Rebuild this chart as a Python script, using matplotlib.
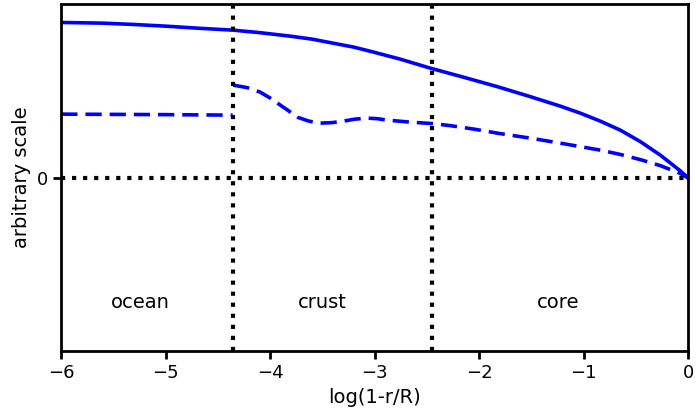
import matplotlib
matplotlib.use("Agg")
import matplotlib.pyplot as plt

# solid curve
x_full = [-6.0, -5.6, -5.31, -5.0, -4.7, -4.354, -4.1, -3.81, -3.6, -3.40, -3.2, -3.01,
          -2.756, -2.469, -2.153, -1.828, -1.512, -1.225, -1.034, -0.842, -0.651,
          -0.459, -0.268, -0.077, 0.0]
y_full = [1.557, 1.55, 1.537, 1.52, 1.50, 1.48, 1.455, 1.42, 1.39, 1.35, 1.31, 1.26,
          1.19, 1.10, 1.01, 0.915, 0.815, 0.72, 0.65, 0.57, 0.48,
          0.365, 0.23, 0.073, 0.0]

# dashed curve, ocean part
x_ocean = [-6.0, -5.0, -4.36]
y_ocean = [0.64, 0.635, 0.63]

# dashed curve, crust + core part
x_inner = [-4.354, -4.22, -4.096, -4.0, -3.904, -3.82, -3.742, -3.63, -3.522, -3.41,
           -3.301, -3.19, -3.072, -2.98, -2.880, -2.660, -2.440, -2.278, -2.05,
           -1.828, -1.512, -1.225, -1.034, -0.842, -0.651, -0.459, -0.268, -0.077, 0.0]
y_inner = [0.93, 0.905, 0.86, 0.80, 0.73, 0.67, 0.61, 0.57, 0.55, 0.555,
           0.57, 0.59, 0.60, 0.595, 0.58, 0.56, 0.545, 0.525, 0.49,
           0.45, 0.40, 0.35, 0.315, 0.28, 0.237, 0.185, 0.125, 0.047, 0.0]

boundaries = [-4.36, -2.45]
regions = ["ocean", "crust", "core"]
region_x = [-5.24, -3.5, -1.25]

fig = plt.figure(figsize=(6.96, 4.16), dpi=100)
ax = fig.add_axes([0.088, 0.156, 0.901, 0.834])

ax.plot(x_full, y_full, '-', color='blue', lw=2.6, solid_joinstyle='round')
ax.plot(x_ocean, y_ocean, '--', color='blue', lw=2.6, dashes=(4.5, 2.2))
ax.plot(x_inner, y_inner, '--', color='blue', lw=2.6, dashes=(4.5, 2.2))

ax.axhline(0, color='k', ls=':', lw=3)
for b in boundaries:
    ax.axvline(b, color='k', ls=':', lw=3)

for name, xr in zip(regions, region_x):
    ax.text(xr, -1.24, name, ha='center', va='center', fontsize=14)

ax.set_xlim(-6, 0)
ax.set_ylim(-1.73, 1.74)
ax.set_xticks([-6, -5, -4, -3, -2, -1, 0])
ax.set_yticks([0])
ax.tick_params(labelsize=13, width=2, length=6)
for s in ax.spines.values():
    s.set_linewidth(2)

ax.set_xlabel("log(1-r/R)", fontsize=14)
ax.set_ylabel("arbitrary scale", fontsize=14)

fig.savefig("out.png", dpi=100)
